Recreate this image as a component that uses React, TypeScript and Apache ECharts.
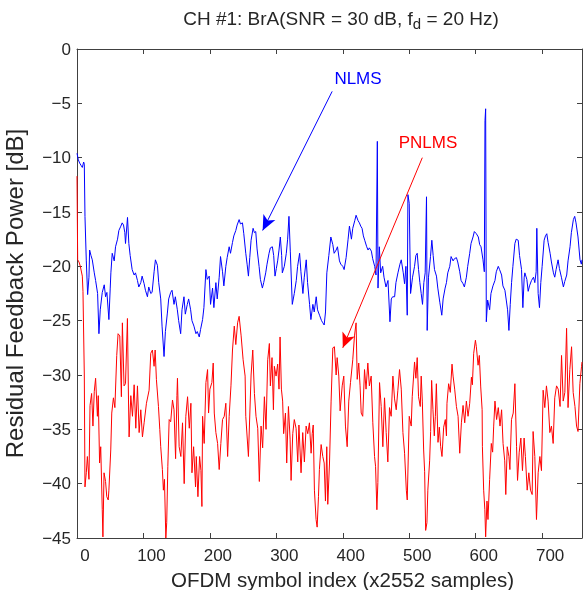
import React, { useEffect, useRef } from "react";
import * as echarts from "echarts";

const titleText = "CH #1: BrA(SNR = 30 dB, f";
const titleSub = "d";
const titleTail = " = 20 Hz)";
const xName = "OFDM symbol index (x2552 samples)";
const yName = "Residual Feedback Power [dB]";
const xMin = 0;
const xMax = 760;
const yMin = -45;
const yMax = 0;

const nlmsX = [0,2,4,6,8,10,11,12,14,16,18,19,21,23,26,28,31,33,35,38,41,43,45,48,50,51,53,56,58,61,63,66,68,70,72,73,76,78,80,83,86,88,91,93,96,98,101,103,106,108,111,113,116,118,121,123,126,128,131,133,136,138,141,143,146,148,151,153,156,158,161,163,166,168,171,173,176,179,181,184,186,189,191,194,196,199,201,204,206,209,211,214,216,219,221,224,226,229,231,234,236,239,241,244,246,249,251,254,256,258,260,262,265,267,269,271,274,276,279,281,284,286,289,291,294,296,298,300,302,304,306,308,309,312,315,317,319,321,324,327,330,332,335,337,340,342,345,347,350,352,355,357,360,362,365,368,370,372,374,376,379,382,385,387,390,392,395,397,400,402,405,408,410,413,415,418,420,423,425,427,429,431,433,436,438,440,443,445,448,450,452,453,455,457,460,462,465,468,471,473,475,478,480,483,486,488,491,493,495,497,498,500,502,505,508,510,512,514,516,518,520,522,524,526,527,529,532,534,536,538,541,543,546,549,551,554,556,558,561,563,566,568,571,573,576,578,581,583,586,588,591,593,596,598,601,604,606,608,611,613,614,615,616,618,621,623,626,629,631,634,636,639,641,644,646,648,650,652,654,656,659,661,664,666,669,671,673,674,677,679,681,684,687,689,691,692,694,696,698,700,703,705,707,709,712,714,717,719,721,724,726,729,732,734,737,739,742,744,747,749,751,754,757,759,760];
const nlmsY = [-9.6,-10.2,-10.5,-10.7,-10.9,-10.4,-10.6,-15.4,-19.5,-22.6,-21,-18.5,-19,-19.4,-20.6,-21.3,-22.5,-26.2,-24,-22.4,-21.7,-22.8,-22.4,-24.9,-22,-20.6,-18.8,-19.5,-18.2,-17.5,-16.7,-16.3,-16.0,-16.2,-16.9,-17.9,-15.5,-17.9,-19,-20.3,-20.8,-20.6,-21.3,-21.9,-21.5,-20.9,-21.6,-22.2,-22.8,-21.9,-22.5,-22.4,-20.5,-19.4,-19.9,-21.5,-23,-25.5,-28.3,-26,-24.3,-23,-22.4,-22.2,-23.5,-22.8,-24,-25,-26.2,-24,-22.8,-24.4,-23.5,-23,-24,-25,-25.5,-26.2,-26,-26.5,-25.8,-24.9,-23.8,-20.3,-21.2,-20.9,-23.5,-22,-23.8,-21.5,-23,-21,-19.1,-20.5,-21.8,-20,-19.2,-18.2,-18.8,-17.8,-17.2,-16.7,-16.2,-15.7,-16.1,-16,-17,-18.8,-19.8,-20.9,-19.2,-17.6,-16.5,-16.9,-16.8,-18.4,-20,-21.2,-22,-21.5,-20.6,-19.8,-18.8,-18.3,-18.2,-19,-20.9,-20.2,-19.5,-18.5,-17.3,-19,-20.6,-20,-18.8,-17.5,-15.4,-18.6,-23.5,-22.5,-21.3,-20,-18.8,-20.5,-22.5,-21,-19.4,-21.5,-23.5,-24.9,-23.5,-24.2,-22.8,-24,-24.5,-25,-25.2,-25.4,-24.2,-20.6,-19,-17.3,-18,-18.8,-18.5,-18.2,-19.5,-19.8,-20,-20.3,-19.2,-17.5,-16.3,-17.5,-16.5,-15.8,-15.3,-15.8,-16,-16.3,-16.5,-17.2,-17.6,-18.2,-18.5,-18.3,-18.6,-19.3,-20,-20.8,-8.5,-22,-18.2,-20.6,-20,-21,-21.9,-21.3,-25.1,-23,-22.8,-22.8,-21.5,-20.6,-19.8,-19.4,-20.6,-21.6,-20,-24.5,-13.4,-14.2,-22.5,-21,-20,-19,-18.8,-20.3,-21.5,-22.5,-23.5,-21.5,-20.6,-13.6,-25.9,-21,-19.1,-17.6,-19,-20.3,-20.9,-22,-23.3,-24.5,-23,-22,-21.5,-20.6,-20,-19.1,-19.5,-19.3,-19.2,-19.6,-20.5,-21.3,-21.6,-21.9,-21,-20,-18.8,-17.9,-17.3,-16.8,-17,-17.3,-18,-18.2,-19.4,-20.5,-6.6,-5.5,-25.1,-23.1,-24,-22.5,-21.8,-21.3,-20.5,-20,-20.3,-20.8,-21.8,-22.2,-23.1,-24,-25.9,-23.5,-21.5,-20,-17.9,-17.5,-17.6,-19,-20.3,-23.8,-21,-20.6,-21.2,-22.3,-21.8,-21.3,-21,-21.5,-20.5,-16.5,-22.5,-23.8,-21.5,-20,-17.6,-17.2,-17,-17.8,-18.8,-19.6,-20.6,-21,-20.3,-19.4,-20.2,-21,-21.9,-21.4,-20.8,-19.5,-18.2,-16.9,-15.7,-15.4,-16,-17.3,-19.4,-19.8,-19.4];

const pnlmsX = [0,1,3,5,8,9,11,12,14,15.6,18,19.6,22,24,26,28,30.7,32,34,35.7,38,39,40.7,43,44.8,47,48,50.8,52.3,54.8,57,59.8,61.8,64.4,66.8,68.3,70.8,73,75.9,77.5,78.4,81,83.5,86,88.5,91,93.5,96,98.5,101,104.5,108.5,111,113.5,116,117.6,119.5,122.6,124.6,126,128.5,130,131.6,133.7,135,136.7,138.7,141,143.7,146,148.4,150.4,151.2,153.7,156.3,158.8,161.3,163.8,166.4,169,171.4,173,175.5,178.4,179.5,182,184.5,186.5,188,189,191.4,194,196.5,198,200,203,205,206.6,209,211.6,214,216.5,219,221.6,224,226.7,229,231.7,234,236.7,239,241.7,244,247,250,253,254,258,262,264.5,267,269.4,272,274.4,277,279.4,282,284.5,287,289.5,291,293.5,295.6,297,299.6,302,304,305.6,307.6,309.5,311,313.7,315.6,318.2,320.7,322.2,324.7,327,329.7,332.2,334,337.2,339.7,342.2,344.8,347.3,349.8,352.3,354,355.5,357.3,359.8,361.4,363.4,364.8,367.4,369.9,372,373.9,375.9,377.4,380,382.4,385,387.4,390,391.5,394,396,399.1,401.5,404,406.6,409,411.6,415,417.6,420,421.7,424,426,427.7,430,432.7,435,437.7,440,442.7,445.2,447.8,449.3,451.3,452.8,455.3,457.8,460.3,462.8,465.3,467.8,470.3,472.8,475.4,477.9,480.4,482.9,485.4,488,490.5,493,495.6,497,500,503,504.5,508,510,512,514,516.6,518,519.7,521.7,523.2,524.7,526.6,528,530.7,532.2,533.7,535.7,537.7,539.3,540.8,543.3,545.3,547.3,549.3,551.8,554.3,556,556.8,559.3,561.8,564.4,566,568.4,571,573.5,576,578.5,581,583.5,586,588.5,591,593.6,595,597,599.6,601,603.6,605.5,607.6,609.7,610.1,612,613.8,615,617,618.5,621,623.5,625.5,627.1,629,631.5,634,636.6,639,641.2,643.7,645.3,647.5,650,651.5,653.9,656.5,659,661.5,663,665.5,668,670.4,672.9,674.8,677.5,680,682.5,685,686.4,689,691.5,694,696.6,699,701.5,704,706.5,709,711.6,714,716.6,719,721.7,724.2,727,729.2,731.7,734.2,736.8,739,741.7,744.3,746.7,749.4,751.8,754,756.8,759.3,760];
const pnlmsY = [-11.7,-19.4,-19.6,-20,-20.9,-22.3,-30,-40.3,-39,-37.5,-39.6,-32.8,-31.7,-34.7,-31.5,-30.3,-33.8,-31.9,-38.1,-36.6,-42.4,-44.9,-39,-39.8,-41.2,-41.5,-40.6,-36.9,-33.5,-32.1,-33,-28.2,-26.2,-26.4,-32,-25.2,-31,-30.8,-24.8,-32.3,-35.7,-31.9,-33.8,-30.9,-34.9,-31,-35.3,-33.2,-35.7,-34.4,-32.6,-31.4,-28,-27.7,-29.2,-27.7,-30.4,-32.9,-35,-36.6,-38.7,-40.6,-39.6,-45,-43.6,-38.4,-34.1,-34.3,-32.3,-33.2,-37.7,-31.9,-30.3,-36.6,-37.5,-34.4,-40,-33.8,-32,-34.9,-32.6,-39,-36.6,-40.3,-37.5,-41.2,-37.5,-38.8,-42.1,-33.8,-36.3,-30.7,-29.5,-33.5,-31.3,-30.7,-28.9,-33.5,-35.3,-36.3,-38.7,-36.3,-34.1,-33.8,-32.6,-37.5,-33.8,-31,-27.7,-25.5,-27.2,-25.2,-24.6,-26.4,-28.6,-30.1,-33.8,-37.5,-30,-27.7,-31.7,-33.8,-34.9,-39.8,-34.7,-36.7,-32,-35,-28.6,-27.1,-31,-28.4,-33.2,-29.2,-30.1,-29,-31.3,-26.5,-31.3,-32.4,-35.4,-33.5,-38.1,-32.9,-35.9,-39.7,-35.4,-34.1,-34.9,-38,-34.6,-39,-35.3,-38,-34.7,-35.4,-34.4,-37.2,-35.4,-34.6,-40.6,-43.3,-44,-41.2,-38.7,-36.4,-37.5,-38.1,-41.6,-36.6,-41.9,-38.1,-32.4,-27.5,-27.4,-30,-28.4,-30.1,-33.3,-31,-30.1,-34.7,-36.6,-32.4,-30.7,-28.6,-26.4,-25.2,-30.4,-28.9,-31,-33.5,-33.8,-29.5,-31.3,-28.9,-31,-30.1,-34.4,-37.5,-38.4,-42.4,-39.9,-30.7,-32.9,-36.6,-32.1,-35.3,-38,-33,-33.8,-30.1,-32.2,-33.2,-31.4,-29.5,-31.3,-35.3,-37.2,-40.6,-41.5,-33.8,-34.7,-32,-28.8,-30.3,-28.4,-32,-32.9,-30.1,-32.4,-36.9,-38.9,-44.3,-43.6,-40.6,-37.9,-35.2,-30.5,-33.2,-35.6,-33.8,-30.8,-36.2,-34.8,-36.6,-37.5,-34.8,-34.1,-35.6,-32.6,-30.8,-31.6,-29,-30.1,-31.3,-32.9,-33.8,-37.2,-34.4,-32.8,-34.4,-32.4,-33.8,-32.6,-30.2,-30.9,-28,-26.8,-27.4,-29.1,-28.2,-31.1,-33.2,-36.6,-40.6,-42.4,-44.9,-41.6,-43.3,-39.6,-36.3,-37.1,-34.7,-32.4,-34.1,-33,-34.7,-33.2,-36.3,-37.9,-41,-36.6,-37.5,-38.7,-34.1,-33.5,-30.8,-36.6,-39.7,-37.1,-35.8,-38.8,-35.8,-37.5,-40.6,-39,-40.6,-41,-35.2,-37.5,-43.3,-39,-37.5,-38.8,-31.4,-33,-31,-32.4,-35.3,-34.7,-36.3,-32.1,-31,-31.3,-32.9,-28.2,-32.4,-31.6,-25.7,-33,-29.5,-27.4,-31.6,-32.9,-34.7,-35.2,-30.8,-29.2,-28.8];

// annotations: label text and arrow [start, end] in data coordinates
const nlmsLabel = "NLMS";
const nlmsArrow = [[384, -3.9], [279.4, -16.7]];
const pnlmsLabel = "PNLMS";
const pnlmsArrow = [[519.7, -10.0], [400, -27.5]];

export default function App() {
  const ref = useRef<HTMLDivElement>(null);
  useEffect(() => {
    const chart = echarts.init(ref.current!, null, { renderer: "svg" });
    const FONT = "'Liberation Sans', Arial, sans-serif";
    const axisColor = "#404040";
    const textColor = "#262626";
    const nlms = nlmsX.map((x, i) => [x, nlmsY[i]]);
    const pnlms = pnlmsX.map((x, i) => [x, pnlmsY[i]]);
    const axisCommon = {
      axisLine: { show: true, onZero: false, lineStyle: { color: axisColor, width: 1 } },
      axisTick: { show: true, inside: true, length: 5, lineStyle: { color: axisColor } },
      splitLine: { show: false },
    };
    chart.setOption({
      animation: false,
      title: {
        text: `{t|${titleText}}{s|${titleSub}}{t|${titleTail}}`,
        left: 336,
        top: 0,
        textAlign: "center",
        textStyle: {
          fontWeight: "normal",
          rich: {
            t: { fontSize: 19, fontWeight: "normal", fontFamily: FONT, color: textColor, lineHeight: 26 },
            s: { fontSize: 15, fontWeight: "normal", fontFamily: FONT, color: textColor, lineHeight: 26, verticalAlign: "bottom" },
          },
        },
      },
      grid: { left: 77, right: 5, top: 49, bottom: 52, containLabel: false, outerBoundsMode: "none" },
      xAxis: [
        {
          type: "value",
          position: "bottom",
          min: xMin,
          max: xMax,
          interval: 100,
          ...axisCommon,
          axisLabel: {
            formatter: (v: number) => (v % 100 === 0 ? String(v) : ""),
            color: textColor,
            fontSize: 17,
            fontFamily: FONT,
            margin: 9,
            padding: [0, 0, 0, 16],
            showMaxLabel: false,
          },
          name: xName,
          nameLocation: "middle",
          nameGap: 30,
          nameTextStyle: { fontSize: 20.5, fontFamily: FONT, color: textColor, padding: [0, 0, 0, 26] },
        },
        {
          type: "value",
          position: "top",
          min: xMin,
          max: xMax,
          interval: 100,
          ...axisCommon,
          axisLabel: { show: false },
        },
      ],
      yAxis: [
        {
          type: "value",
          position: "left",
          min: yMin,
          max: yMax,
          interval: 5,
          ...axisCommon,
          axisLabel: {
            formatter: (v: number) => String(v).replace("-", "\u2212"),
            color: textColor,
            fontSize: 17,
            fontFamily: FONT,
            margin: 6,
          },
          name: yName,
          nameLocation: "middle",
          nameGap: 51,
          nameTextStyle: { fontSize: 24, fontFamily: FONT, color: textColor },
        },
        {
          type: "value",
          position: "right",
          min: yMin,
          max: yMax,
          interval: 5,
          ...axisCommon,
          axisLabel: { show: false },
        },
      ],
      series: [
        {
          name: "NLMS",
          type: "line",
          data: nlms,
          showSymbol: false,
          symbol: "none",
          lineStyle: { color: "#0000ff", width: 1 },
          z: 3,
          markLine: {
            silent: true,
            symbol: ["none", "arrow"],
            symbolSize: [10, 15],
            label: { show: false },
            lineStyle: { color: "#0000ff", width: 1, type: "solid" },
            data: [[{ coord: nlmsArrow[0] }, { coord: nlmsArrow[1] }]],
          },
        },
        {
          name: "PNLMS",
          type: "line",
          data: pnlms,
          showSymbol: false,
          symbol: "none",
          lineStyle: { color: "#ff0000", width: 1 },
          z: 2,
          markLine: {
            silent: true,
            symbol: ["none", "arrow"],
            symbolSize: [10, 15],
            label: { show: false },
            lineStyle: { color: "#ff0000", width: 1, type: "solid" },
            data: [[{ coord: pnlmsArrow[0] }, { coord: pnlmsArrow[1] }]],
          },
        },
      ],
      graphic: [
        {
          type: "text",
          x: 358,
          y: 78,
          style: { text: nlmsLabel, fill: "#0000ff", fontSize: 17, fontFamily: FONT, align: "center", verticalAlign: "middle" },
        },
        {
          type: "text",
          x: 428,
          y: 142,
          style: { text: pnlmsLabel, fill: "#ff0000", fontSize: 17, fontFamily: FONT, align: "center", verticalAlign: "middle" },
        },
      ],
    });
    return () => chart.dispose();
  }, []);
  return <div ref={ref} style={{ position: "fixed", left: 0, top: 0, width: 587, height: 590 }} />;
}
